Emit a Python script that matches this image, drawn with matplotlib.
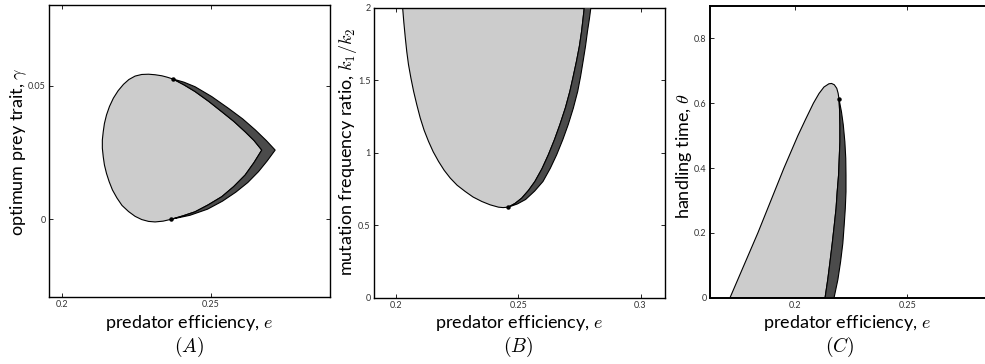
import matplotlib
matplotlib.use("Agg")
import matplotlib.pyplot as plt

plt.rcParams["font.family"] = ["Lato", "DejaVu Sans"]
plt.rcParams["mathtext.fontset"] = "cm"

LIGHT = "#cccccc"
DARK = "#4b4b4b"

# --- panel A: predator efficiency e vs optimum prey trait gamma -------
# light region, outer arc: top dot -> round the left -> bottom dot
A_outer_e = [0.2373, 0.2353, 0.2336, 0.2313, 0.2291, 0.2268, 0.2246, 0.2225,
             0.2207, 0.2189, 0.2173, 0.2160, 0.2150, 0.2143, 0.2139, 0.2136,
             0.2136, 0.2139, 0.2143, 0.2150, 0.2159, 0.2170, 0.2185, 0.2202,
             0.2224, 0.2246, 0.2268, 0.2291, 0.2313, 0.2340, 0.2367]
A_outer_g = [0.0526, 0.0533, 0.0538, 0.0542, 0.0544, 0.0543, 0.0537, 0.0524,
             0.0506, 0.0482, 0.0454, 0.0423, 0.0391, 0.0359, 0.0328, 0.0297,
             0.0266, 0.0234, 0.0203, 0.0171, 0.0140, 0.0109, 0.0079, 0.0051,
             0.0028, 0.0010, -0.0002, -0.0009, -0.0011, -0.0008, -0.0001]
# boundary shared by light and dark: bottom dot -> tip -> top dot
A_inner_e = [0.2367, 0.2407, 0.2447, 0.2491, 0.2537, 0.2577, 0.2615, 0.2645,
             0.2671, 0.2645, 0.2615, 0.2577, 0.2537, 0.2493, 0.2447, 0.2410, 0.2373]
A_inner_g = [-0.0001, 0.0012, 0.0027, 0.0053, 0.0084, 0.0122, 0.0165, 0.0212,
             0.0259, 0.0295, 0.0328, 0.0367, 0.0403, 0.0442, 0.0479, 0.0504, 0.0526]
# dark band, outer edge: top dot -> tip -> bottom dot
A_dark_e = [0.2373, 0.2410, 0.2447, 0.2503, 0.2559, 0.2607, 0.2649, 0.2686,
            0.2716, 0.2689, 0.2660, 0.2624, 0.2584, 0.2539, 0.2489, 0.2430, 0.2367]
A_dark_g = [0.0526, 0.0514, 0.0497, 0.0460, 0.0416, 0.0376, 0.0335, 0.0295,
            0.0259, 0.0218, 0.0178, 0.0137, 0.0101, 0.0067, 0.0037, 0.0014, -0.0001]
A_dot_e = [0.2373, 0.2367]
A_dot_g = [0.0526, -0.0001]

# --- panel B: e vs mutation frequency ratio k1/k2 ---------------------
B_left_e = [0.2027, 0.2032, 0.2038, 0.2044, 0.2051, 0.2061, 0.2072, 0.2085,
            0.2099, 0.2115, 0.2133, 0.2152, 0.2174, 0.2197, 0.2222, 0.2250,
            0.2283, 0.2315, 0.2351, 0.2385, 0.2419, 0.2438, 0.2459]
B_left_k = [2.0, 1.897, 1.791, 1.696, 1.607, 1.513, 1.422, 1.330,
            1.239, 1.154, 1.077, 1.006, 0.939, 0.878, 0.824, 0.775,
            0.732, 0.694, 0.663, 0.640, 0.624, 0.621, 0.624]
B_inner_e = [0.2459, 0.2487, 0.2514, 0.2542, 0.2568, 0.2597, 0.2623, 0.2648,
             0.2670, 0.2693, 0.2711, 0.2725, 0.2738, 0.2750, 0.2759, 0.2765, 0.2770]
B_inner_k = [0.624, 0.650, 0.686, 0.740, 0.801, 0.889, 0.985, 1.089,
             1.192, 1.310, 1.422, 1.527, 1.629, 1.734, 1.836, 1.924, 2.0]
B_dark_e = [0.2459, 0.2496, 0.2530, 0.2567, 0.2601, 0.2631, 0.2657, 0.2682,
            0.2704, 0.2725, 0.2743, 0.2755, 0.2765, 0.2775, 0.2783, 0.2791, 0.2797]
B_dark_k = [0.624, 0.646, 0.677, 0.735, 0.801, 0.892, 0.985, 1.089,
            1.192, 1.306, 1.422, 1.527, 1.629, 1.734, 1.836, 1.924, 2.0]
B_dot_e = [0.2459]
B_dot_k = [0.624]

# --- panel C: e vs handling time theta --------------------------------
C_left_e = [0.1711, 0.1773, 0.1835, 0.1893, 0.1951, 0.2013, 0.2047, 0.2082,
            0.2107, 0.2129, 0.2151, 0.2163, 0.2175, 0.2186, 0.2192, 0.2196]
C_left_t = [0.0, 0.1, 0.2, 0.3, 0.4, 0.5, 0.55, 0.6,
            0.63, 0.65, 0.66, 0.661, 0.657, 0.646, 0.631, 0.613]
C_inner_e = [0.2196, 0.2199, 0.2200, 0.2200, 0.2197, 0.2194, 0.2188, 0.2183,
             0.2175, 0.2166, 0.2156, 0.2146, 0.2134]
C_inner_t = [0.613, 0.573, 0.533, 0.481, 0.430, 0.378, 0.327, 0.276,
             0.224, 0.168, 0.111, 0.056, 0.0]
C_dark_e = [0.2196, 0.2207, 0.2215, 0.2222, 0.2226, 0.2227, 0.2227, 0.2224,
            0.2219, 0.2213, 0.2203, 0.2191, 0.2174]
C_dark_t = [0.613, 0.573, 0.533, 0.481, 0.430, 0.378, 0.327, 0.276,
            0.224, 0.168, 0.111, 0.056, 0.0]
C_dot_e = [0.2196]
C_dot_t = [0.613]


def style(ax, xticks, yticks, xlabels, ylabels, lw=1.0):
    ax.set_xticks(xticks)
    ax.set_xticklabels(xlabels)
    ax.set_yticks(yticks)
    ax.set_yticklabels(ylabels)
    ax.tick_params(direction="in", top=True, right=True, length=3, width=0.6,
                   labelsize=6.5, labelcolor="#333333", pad=2.5)
    for sp in ax.spines.values():
        sp.set_linewidth(lw)


fig = plt.figure(figsize=(9.85, 3.64), dpi=100)
W, H = 985.0, 364.0

def add_axes(left, right, top, bottom):
    return fig.add_axes([left / W, 1 - bottom / H, (right - left) / W, (bottom - top) / H])

ax_a = add_axes(49, 330, 5, 297)
ax_b = add_axes(374, 665, 7.5, 297.7)
ax_c = add_axes(710, 995, 6, 297.7)

# A
ax_a.fill(A_outer_e + A_inner_e, A_outer_g + A_inner_g, facecolor=LIGHT,
          edgecolor="black", linewidth=0.8, zorder=2)
ax_a.fill(A_inner_e + A_dark_e, A_inner_g + A_dark_g, facecolor=DARK,
          edgecolor="black", linewidth=0.8, zorder=3)
ax_a.plot(A_dot_e, A_dot_g, "o", color="black", markersize=2.2, zorder=4)
ax_a.set_xlim(0.1957, 0.29)
ax_a.set_ylim(-0.0293, 0.0804)
style(ax_a, [0.2, 0.25], [0, 0.05], ["0.2", "0.25"], ["0", "0.05"])

# B
ax_b.fill(B_left_e + B_inner_e, B_left_k + B_inner_k, facecolor=LIGHT,
          edgecolor="black", linewidth=0.8, zorder=2)
ax_b.fill(B_inner_e + B_dark_e[::-1], B_inner_k + B_dark_k[::-1], facecolor=DARK,
          edgecolor="black", linewidth=0.8, zorder=3)
ax_b.plot(B_dot_e, B_dot_k, "o", color="black", markersize=2.2, zorder=4)
ax_b.set_xlim(0.191, 0.31)
ax_b.set_ylim(0, 2)
style(ax_b, [0.2, 0.25, 0.3], [0, 0.5, 1, 1.5, 2], ["0.2", "0.25", "0.3"],
      ["0", "0.5", "1", "1.5", "2"])

# C
ax_c.fill(C_left_e + C_inner_e, C_left_t + C_inner_t, facecolor=LIGHT,
          edgecolor="black", linewidth=0.8, zorder=2)
ax_c.fill(C_inner_e + C_dark_e[::-1], C_inner_t + C_dark_t[::-1], facecolor=DARK,
          edgecolor="black", linewidth=0.8, zorder=3)
ax_c.plot(C_dot_e, C_dot_t, "o", color="black", markersize=2.2, zorder=4)
ax_c.set_xlim(0.1622, 0.289)
ax_c.set_ylim(0, 0.9)
style(ax_c, [0.2, 0.25], [0, 0.2, 0.4, 0.6, 0.8], ["0.2", "0.25"],
      ["0", "0.2", "0.4", "0.6", "0.8"], lw=1.4)

# labels placed in pixel terms to line up with the reference
LBL = 13
for cx in [(49 + 330) / 2, (374 + 665) / 2, (710 + 985) / 2]:
    fig.text(cx / W, 1 - 328 / H, "predator efficiency, $e$", ha="center",
             va="baseline", fontsize=LBL)
for cx, letter in zip([189, 518, 840], ["A", "B", "C"]):
    fig.text(cx / W, 1 - 347 / H, "$(%s)$" % letter, ha="center",
             va="center", fontsize=14)

fig.text(23 / W, 1 - 152 / H, r"optimum prey trait, $\gamma$", rotation=90,
         rotation_mode="anchor", ha="center", va="baseline", fontsize=LBL)
fig.text(352 / W, 1 - 152 / H, r"mutation frequency ratio, $k_1/k_2$", rotation=90,
         rotation_mode="anchor", ha="center", va="baseline", fontsize=LBL)
fig.text(689 / W, 1 - 156 / H, r"handling time, $\theta$", rotation=90,
         rotation_mode="anchor", ha="center", va="baseline", fontsize=LBL)

fig.savefig("out.png", dpi=100)
